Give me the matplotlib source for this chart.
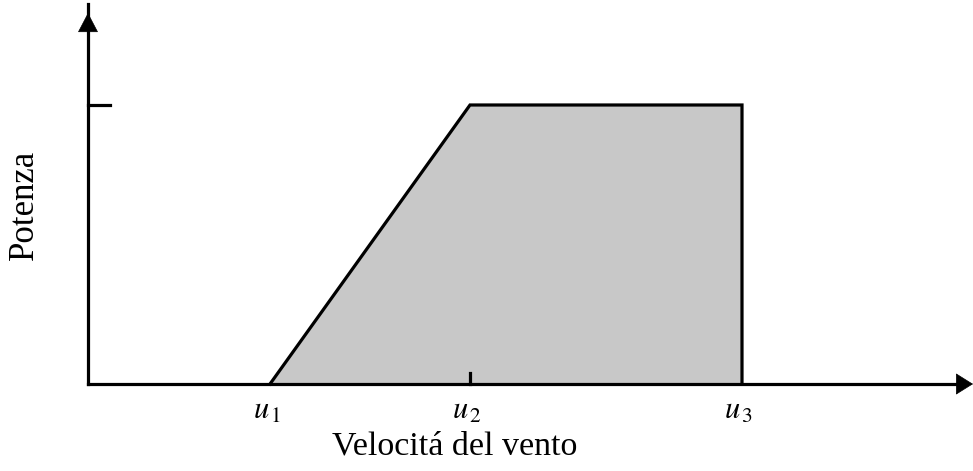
import matplotlib
matplotlib.use("Agg")
import matplotlib.pyplot as plt

# wind speeds (cut-in, rated, cut-out) and rated power
u_vals = [1.82, 3.82, 6.54]
u_labels = [r"$u_{\,1}$", r"$u_{\,2}$", r"$u_{\,3}$"]
p_rated = 1.0

x_end = 8.85
y_end = 1.362

plt.rcParams["mathtext.fontset"] = "stix"
serif = "Liberation Serif"

fig = plt.figure(figsize=(9.73, 4.71), dpi=100)
ax = fig.add_axes([0, 0, 1, 1])
ax.set_xlim(-0.88, 8.85)
ax.set_ylim(-0.3118, 1.3763)
ax.axis("off")

u1, u2, u3 = u_vals
px = [u1, u2, u3, u3]
py = [0, p_rated, p_rated, 0]

ax.fill(px, py, facecolor="#c8c8c8", edgecolor="none", zorder=1)
ax.plot(px, py, color="black", lw=2.3, solid_joinstyle="miter", zorder=3)

# axes with arrow heads
ax.plot([0, x_end - 0.1], [0, 0], color="black", lw=2.3, zorder=3)
ax.plot([0, 0], [0, y_end], color="black", lw=2.3, zorder=3)
ax.annotate("", xy=(x_end, 0), xytext=(x_end - 0.3, 0),
            arrowprops=dict(arrowstyle="-|>,head_length=1.15,head_width=0.72",
                            color="black", lw=0.5, mutation_scale=10,
                            shrinkA=0, shrinkB=0), zorder=4)
ax.annotate("", xy=(0, 1.33), xytext=(0, 1.1),
            arrowprops=dict(arrowstyle="-|>,head_length=1.3,head_width=0.68",
                            color="black", lw=0.5, mutation_scale=10,
                            shrinkA=0, shrinkB=0), zorder=4)

# ticks
ax.plot([0, 0.22], [p_rated, p_rated], color="black", lw=2.3, zorder=3)
ax.plot([u2, u2], [0, 0.04], color="black", lw=2.3, zorder=3)

for u, lab in zip(u_vals, u_labels):
    ax.text(u - 0.03, -0.095, lab, fontsize=22, ha="center", va="center")

ax.text(3.67, -0.222, "Velocitá del vento", fontsize=24.5, family=serif,
        ha="center", va="center")
ax.text(-0.64, 0.642, "Potenza", fontsize=25, family=serif, rotation=90,
        ha="center", va="center")

fig.savefig("out.png", dpi=100)
